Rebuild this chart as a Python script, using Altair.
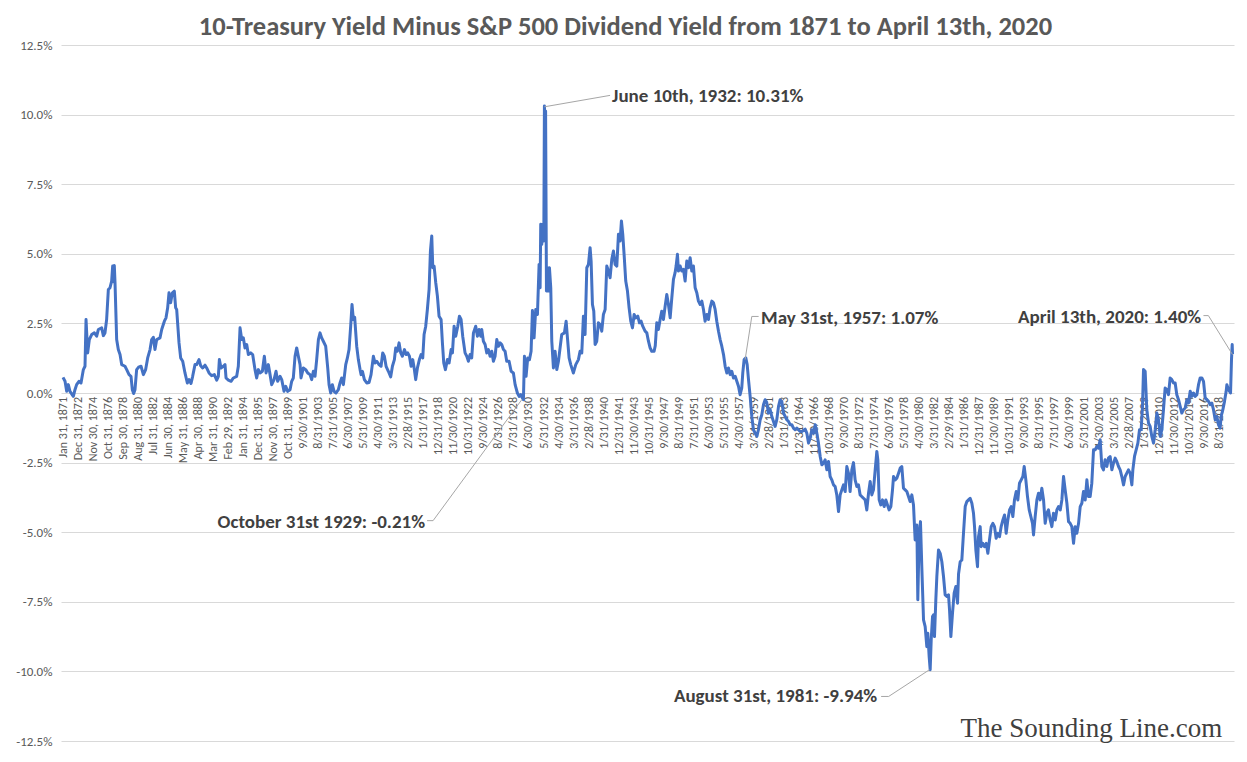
import json
import altair as alt
import pandas as pd

# ---------------- data ----------------
years = [
    1871.00, 1871.26, 1871.47, 1871.68, 1871.89, 1872.32, 1872.53, 1872.74, 1873.04, 1873.30,
    1873.60, 1873.81, 1873.94, 1874.15, 1874.36, 1874.66, 1875.00, 1875.30, 1875.51, 1875.94,
    1876.15, 1876.36, 1876.57, 1876.79, 1877.00, 1877.21, 1877.34, 1877.43, 1877.55, 1877.64,
    1877.85, 1878.06, 1878.28, 1878.49, 1878.91, 1879.13, 1879.43, 1879.68, 1879.85, 1880.02,
    1880.19, 1880.40, 1880.70, 1880.96, 1881.26, 1881.55, 1881.81, 1882.11, 1882.32, 1882.53,
    1882.74, 1882.96, 1883.38, 1883.60, 1883.94, 1884.15, 1884.36, 1884.53, 1884.74, 1884.96,
    1885.21, 1885.38, 1885.51, 1885.81, 1886.02, 1886.28, 1886.57, 1886.87, 1887.09, 1887.34,
    1887.55, 1887.85, 1888.06, 1888.36, 1888.57, 1888.83,
    1889.13, 1889.34, 1889.64, 1889.98, 1890.32, 1890.62, 1890.83, 1890.96, 1891.17, 1891.47,
    1891.68, 1891.81, 1892.11, 1892.45, 1892.75, 1893.17, 1893.38, 1893.60, 1893.81, 1894.02,
    1894.23, 1894.45, 1894.66, 1894.96, 1895.21, 1895.51, 1895.72, 1895.94, 1896.15, 1896.45,
    1896.70, 1896.92, 1897.21, 1897.43, 1897.64, 1897.94, 1898.19, 1898.40, 1898.70, 1898.92,
    1899.21, 1899.43, 1899.68, 1899.98, 1900.19, 1900.40, 1900.62, 1900.83, 1901.04, 1901.26,
    1901.38, 1901.68, 1901.98, 1902.24, 1902.53, 1902.74, 1902.96, 1903.17, 1903.38, 1903.60,
    1903.81, 1904.02, 1904.23, 1904.53, 1904.79, 1904.96, 1905.17, 1905.38, 1905.60, 1905.85,
    1906.15, 1906.36, 1906.57, 1906.79, 1907.09, 1907.30, 1907.51, 1907.72, 1907.89, 1908.06,
    1908.23,
    1908.49, 1908.70, 1908.92, 1909.05, 1909.22, 1909.47, 1909.77, 1910.07, 1910.32, 1910.62,
    1910.83, 1911.05, 1911.34, 1911.60, 1911.81, 1912.02, 1912.24, 1912.53, 1912.83, 1913.05,
    1913.30, 1913.47, 1913.68, 1913.90, 1914.11, 1914.32, 1914.58, 1914.79, 1915.00, 1915.22,
    1915.43, 1915.64, 1915.85, 1916.02, 1916.24, 1916.49, 1916.71, 1916.92, 1917.09, 1917.30,
    1917.51, 1917.73, 1917.90, 1918.07, 1918.20, 1918.37, 1918.58, 1918.79, 1919.00, 1919.26,
    1919.43, 1919.60, 1919.81, 1920.07, 1920.28, 1920.54, 1920.71, 1920.92, 1921.13, 1921.39,
    1921.60, 1921.81, 1922.02, 1922.32, 1922.54, 1922.75, 1922.96, 1923.17, 1923.39, 1923.68,
    1923.90, 1924.11, 1924.32, 1924.45, 1924.66, 1924.88, 1925.09, 1925.30, 1925.52, 1925.73,
    1925.94, 1926.15, 1926.37, 1926.58, 1926.79, 1927.00, 1927.22,
    1927.43, 1927.64, 1927.94, 1928.20, 1928.49, 1928.71, 1929.00, 1929.22, 1929.43, 1929.64,
    1929.77, 1929.90, 1930.11, 1930.32, 1930.54, 1930.75, 1930.92, 1931.13, 1931.34, 1931.56,
    1931.77, 1931.90, 1931.98, 1932.11, 1932.24, 1932.37, 1932.45, 1932.52, 1932.60, 1932.71,
    1932.83, 1932.96, 1933.09, 1933.26, 1933.39, 1933.60, 1933.81, 1934.03, 1934.24, 1934.45,
    1934.66, 1935.00, 1935.22, 1935.39, 1935.60, 1935.81, 1936.15, 1936.45, 1936.79, 1937.00,
    1937.22, 1937.43, 1937.64, 1937.86, 1938.07, 1938.28, 1938.41, 1938.58, 1938.75, 1938.92,
    1939.13, 1939.34, 1939.56, 1939.77, 1939.98, 1940.20, 1940.41, 1940.62, 1940.83, 1941.05,
    1941.26, 1941.47, 1941.69, 1941.90, 1942.11, 1942.28, 1942.45, 1942.62, 1942.83, 1943.05,
    1943.26, 1943.47, 1943.69, 1943.90, 1944.11, 1944.37, 1944.58, 1944.79, 1945.00, 1945.30,
    1945.52, 1945.73, 1945.94, 1946.15, 1946.45,
    1946.60, 1946.79, 1947.00, 1947.22, 1947.43, 1947.64, 1947.86, 1948.07, 1948.28, 1948.50,
    1948.71, 1948.92, 1949.13, 1949.26, 1949.43, 1949.56, 1949.77, 1949.98, 1950.20, 1950.41,
    1950.62, 1950.84, 1951.05, 1951.26, 1951.47, 1951.69, 1951.90, 1952.11, 1952.33, 1952.54,
    1952.75, 1952.96, 1953.18, 1953.39, 1953.60, 1953.82, 1954.03, 1954.24, 1954.45, 1954.67,
    1954.88, 1955.09, 1955.31, 1955.52, 1955.73, 1955.94, 1956.16, 1956.37, 1956.58, 1956.80,
    1957.01, 1957.22, 1957.43, 1957.64, 1957.77, 1957.94, 1958.16, 1958.33, 1958.50, 1958.71,
    1958.92, 1959.13, 1959.35, 1959.56, 1959.77, 1959.99, 1960.20, 1960.41, 1960.62, 1960.84,
    1961.05, 1961.26, 1961.47, 1961.69, 1961.90, 1962.11, 1962.33, 1962.54, 1962.75, 1962.96,
    1963.18, 1963.39, 1963.60, 1963.82, 1964.03, 1964.24, 1964.45, 1964.67, 1964.88, 1965.09,
    1965.31,
    1965.73, 1965.94, 1966.16, 1966.37, 1966.58, 1966.80, 1967.01, 1967.22, 1967.43, 1967.65,
    1967.86, 1968.07, 1968.28, 1968.50, 1968.71, 1968.92, 1969.13, 1969.35, 1969.56, 1969.77,
    1969.99, 1970.20, 1970.41, 1970.62, 1970.84, 1971.05, 1971.26, 1971.47, 1971.69, 1971.90,
    1972.11, 1972.33, 1972.54, 1972.75, 1972.96, 1973.18, 1973.39, 1973.60, 1973.82, 1974.03,
    1974.24, 1974.45, 1974.67, 1974.88, 1975.01, 1975.18, 1975.39, 1975.60, 1975.82, 1976.03,
    1976.24, 1976.45, 1976.67, 1976.88, 1977.01, 1977.22, 1977.43, 1977.65, 1977.86, 1978.07,
    1978.28, 1978.50, 1978.71, 1978.92, 1979.13, 1979.35, 1979.56, 1979.77, 1979.99, 1980.11,
    1980.28, 1980.45, 1980.62, 1980.84, 1981.05, 1981.26, 1981.39, 1981.56, 1981.69, 1981.82,
    1981.99, 1982.11, 1982.24, 1982.41, 1982.54, 1982.75, 1982.97, 1983.18, 1983.39, 1983.60,
    1983.82, 1984.03, 1984.16, 1984.33, 1984.54, 1984.75, 1984.97, 1985.18,
    1985.31, 1985.52, 1985.73, 1985.94, 1986.16, 1986.37, 1986.58, 1986.79, 1987.01, 1987.22,
    1987.35, 1987.52, 1987.73, 1987.86, 1988.07, 1988.20, 1988.41, 1988.62, 1988.84, 1989.05,
    1989.26, 1989.48, 1989.69, 1989.90, 1990.11, 1990.33, 1990.54, 1990.75, 1990.97, 1991.18,
    1991.39, 1991.60, 1991.82, 1992.03, 1992.24, 1992.45, 1992.67, 1992.88, 1993.09, 1993.31,
    1993.52, 1993.69, 1993.90, 1994.11, 1994.33, 1994.54, 1994.75, 1994.88, 1995.09, 1995.31,
    1995.52, 1995.73, 1995.94, 1996.16, 1996.37, 1996.58, 1996.79, 1997.01, 1997.22, 1997.43,
    1997.65, 1997.86, 1998.07, 1998.29, 1998.50, 1998.71, 1998.92, 1999.14, 1999.35, 1999.56,
    1999.77, 1999.99, 2000.20, 2000.41, 2000.63, 2000.84, 2001.05, 2001.26, 2001.48, 2001.69,
    2001.90,
    2002.11, 2002.32, 2002.54, 2002.75, 2002.96, 2003.17, 2003.39, 2003.60, 2003.81, 2004.02,
    2004.24, 2004.45, 2004.66, 2004.88, 2005.09, 2005.30, 2005.51, 2005.73, 2005.94, 2006.15,
    2006.37, 2006.58, 2006.79, 2007.00, 2007.22, 2007.43, 2007.56, 2007.77, 2007.98, 2008.20,
    2008.41, 2008.62, 2008.79, 2008.92, 2009.13, 2009.34, 2009.56, 2009.77, 2009.98, 2010.20,
    2010.41, 2010.62, 2010.83, 2011.05, 2011.26, 2011.47, 2011.68, 2011.90, 2012.11, 2012.32,
    2012.53, 2012.75, 2012.96, 2013.17, 2013.39, 2013.60, 2013.81, 2014.02, 2014.24, 2014.45,
    2014.66, 2014.88, 2015.09, 2015.30, 2015.51, 2015.73, 2015.94, 2016.15, 2016.37, 2016.58,
    2016.79, 2017.00, 2017.22, 2017.43, 2017.64, 2017.85, 2018.07, 2018.28, 2018.49, 2018.70,
    2018.83, 2019.05, 2019.26, 2019.47, 2019.56, 2019.69, 2019.90, 2020.03, 2020.15, 2020.24,
    2020.28,
]

spread_pct = [
    0.56, 0.42, 0.06, 0.30, 0.06, -0.12, 0.12, 0.30, 0.42, 0.36,
    0.84, 0.96, 2.64, 1.44, 1.92, 2.10, 2.16, 2.04, 2.28, 2.34,
    2.06, 2.16, 2.64, 3.72, 3.78, 4.02, 4.56, 4.00, 4.58, 3.96,
    1.92, 1.56, 1.38, 1.02, 0.96, 0.84, 0.66, 0.60, 0.12, -0.02,
    0.12, 0.84, 0.94, 0.96, 0.66, 0.84, 1.26, 1.56, 1.92, 2.00,
    1.56, 1.92, 1.98, 2.28, 2.58, 2.70, 3.06, 3.60, 3.24, 3.60,
    3.66, 3.06, 3.00, 1.80, 1.26, 1.14, 0.72, 0.36, 0.48, 0.34,
    0.60, 1.02, 1.02, 1.20, 0.98, 0.90,
    1.00, 0.90, 0.72, 0.62, 0.66, 0.46, 0.60, 1.20, 0.90, 0.96,
    1.02, 0.54, 0.46, 0.42, 0.54, 0.60, 0.96, 2.34, 1.92, 1.98,
    1.62, 1.74, 1.38, 1.44, 1.38, 0.84, 0.54, 0.84, 0.72, 0.78,
    1.32, 0.72, 1.02, 0.66, 0.30, 0.48, 0.78, 0.42, 0.60, 0.48,
    0.06, 0.24, 0.06, 0.12, 0.42, 0.54, 1.32, 1.62, 1.32, 1.02,
    0.54, 0.90, 0.84, 0.72, 0.66, 0.48, 0.78, 0.60, 1.20, 1.92,
    2.16, 1.98, 1.86, 1.68, 0.90, 0.30, 0.00, 0.30, 0.06, 0.00,
    0.12, 0.36, 0.54, 0.30, 1.02, 1.26, 1.56, 2.40, 3.18, 2.64,
    2.72,
    1.68, 1.20, 0.84, 0.66, 0.78, 0.48, 0.36, 0.38, 0.66, 1.32,
    1.08, 1.14, 1.02, 0.96, 1.44, 1.32, 0.96, 0.78, 0.58, 0.96,
    1.20, 1.62, 1.50, 1.80, 1.44, 1.32, 1.56, 1.38, 1.44, 1.32,
    0.96, 1.20, 0.84, 0.48, 0.90, 1.20, 1.38, 1.26, 2.10, 2.40,
    3.00, 3.72, 5.10, 5.64, 4.50, 4.56, 3.96, 3.48, 2.76, 2.64,
    1.80, 1.08, 0.84, 1.20, 1.08, 1.56, 1.44, 2.40, 2.04, 2.40,
    2.76, 2.64, 2.04, 1.44, 1.32, 1.14, 1.38, 1.26, 2.16, 2.40,
    2.04, 2.28, 2.04, 2.28, 1.86, 1.74, 1.44, 1.56, 1.32, 1.50,
    1.14, 1.32, 1.92, 1.68, 1.80, 1.74, 1.56,
    1.50, 1.14, 1.14, 0.78, 0.72, 0.30, 0.00, -0.12, -0.06, -0.18,
    -0.24, 1.32, 0.60, 1.26, 1.20, 1.50, 2.96, 1.98, 3.00, 2.82,
    4.62, 3.78, 6.06, 5.34, 6.06, 5.46, 10.31, 9.60, 10.13, 3.66,
    4.50, 3.66, 4.50, 3.78, 1.86, 0.90, 1.50, 0.84, 1.14, 1.62,
    2.10, 2.16, 2.58, 1.98, 1.26, 1.02, 0.72, 1.02, 1.20, 1.50,
    1.44, 2.76, 2.10, 4.50, 4.62, 5.22, 4.74, 3.18, 2.94, 1.74,
    1.86, 2.52, 2.46, 2.22, 2.82, 3.00, 4.56, 4.38, 4.14, 4.80,
    5.10, 4.62, 4.56, 5.70, 5.46, 6.18, 5.70, 4.98, 4.02, 3.66,
    3.06, 2.58, 2.34, 2.82, 2.70, 2.76, 2.52, 2.58, 2.40, 2.22,
    2.16, 1.86, 1.62, 1.50, 1.50,
    1.70, 2.52, 2.28, 2.64, 2.94, 2.64, 3.12, 3.54, 3.18, 2.70,
    3.42, 4.08, 4.32, 4.56, 4.98, 4.38, 4.56, 4.38, 4.44, 4.02,
    4.74, 4.50, 4.86, 4.38, 4.56, 3.78, 3.60, 3.30, 3.18, 3.30,
    3.00, 2.58, 2.82, 2.64, 3.06, 3.30, 3.24, 3.00, 2.58, 2.22,
    1.92, 1.68, 1.38, 0.96, 0.72, 0.90, 0.66, 0.78, 0.54, 0.60,
    0.42, 0.24, -0.06, 0.18, 0.72, 1.20, 1.26, 1.02, 0.48, -0.12,
    -0.84, -1.32, -1.44, -1.56, -1.32, -0.96, -0.78, -0.42, -0.24, -0.36,
    -0.72, -0.60, -0.84, -1.02, -1.20, -0.96, -0.48, -0.24, -0.30, -0.72,
    -0.84, -0.96, -1.02, -1.14, -1.14, -1.26, -1.32, -1.26, -1.32, -1.38,
    -1.38,
    -1.30, -1.44, -1.80, -1.62, -1.32, -1.44, -1.14, -1.44, -1.80, -2.28,
    -2.58, -2.52, -2.40, -2.76, -2.46, -3.00, -3.12, -3.30, -3.36, -3.66,
    -4.26, -3.66, -3.48, -3.30, -3.54, -2.64, -2.88, -3.54, -2.76, -2.50,
    -3.12, -3.36, -3.30, -3.66, -3.72, -3.78, -3.84, -4.20, -3.60, -3.18,
    -3.66, -3.48, -2.76, -2.10, -2.40, -3.84, -4.02, -3.84, -4.08, -3.84,
    -4.02, -4.20, -4.08, -3.48, -3.00, -3.12, -3.06, -2.88, -2.70, -2.64,
    -3.42, -3.48, -3.54, -3.72, -3.90, -3.66, -4.02, -5.28, -4.74, -7.43,
    -5.16, -4.62, -6.24, -8.15, -8.39, -9.11, -8.63, -9.47, -9.94, -8.87,
    -8.03, -7.97, -8.75, -7.43, -6.59, -5.64, -5.76, -6.06, -6.59, -7.25,
    -7.31, -7.25, -7.79, -8.75, -7.91, -7.19, -6.95, -7.55,
    -6.50, -6.06, -6.00, -5.04, -4.08, -3.90, -3.84, -3.78, -3.96, -4.32,
    -4.80, -5.64, -6.24, -5.16, -4.80, -5.52, -5.40, -5.52, -5.40, -5.76,
    -5.28, -4.80, -4.68, -4.80, -5.22, -5.04, -5.16, -4.80, -4.56, -4.38,
    -5.04, -4.56, -4.20, -4.08, -4.44, -3.84, -3.54, -3.84, -3.24, -3.12,
    -3.00, -2.64, -3.12, -3.72, -4.20, -4.44, -4.68, -5.10, -4.44, -3.84,
    -3.60, -3.84, -3.42, -3.84, -4.68, -4.32, -4.20, -4.56, -4.80, -4.32,
    -4.56, -4.20, -4.08, -4.20, -3.84, -3.00, -3.48, -3.96, -4.62, -4.68,
    -4.80, -5.40, -4.80, -5.04, -4.68, -4.08, -3.96, -3.54, -3.84, -3.12,
    -3.72,
    -3.72, -3.24, -2.04, -2.04, -1.92, -1.98, -1.68, -2.64, -2.76, -2.40,
    -2.64, -2.34, -2.28, -2.76, -2.52, -2.34, -2.46, -2.64, -2.76, -3.00,
    -3.30, -3.00, -2.88, -2.76, -2.88, -3.30, -2.76, -2.28, -2.04, -1.80,
    -1.32, -1.32, -0.48, 0.84, 0.78, -0.60, -1.08, -1.20, -1.56, -1.80,
    -1.32, -0.72, -0.96, -1.56, -1.32, -0.60, 0.18, 0.12, -0.06, 0.54,
    0.48, 0.36, 0.36, -0.06, -0.24, -0.48, -0.72, -0.60, -0.54, -0.24,
    -0.36, 0.06, -0.12, 0.00, -0.12, -0.06, 0.30, 0.54, 0.54, 0.42,
    -0.18, -0.24, -0.30, -0.42, -0.36, -0.60, -0.96, -0.84, -1.14, -1.26,
    -0.84, -0.60, -0.30, 0.06, 0.30, 0.18, 0.06, 0.00, 1.20, 1.74,
    1.40,
]

tick_labels = [
    "Jan 31, 1871", "Dec 31, 1872", "Nov 30, 1874", "Oct 31, 1876", "Sep 30, 1878",
    "Aug 31, 1880", "Jul 31, 1882", "Jun 30, 1884", "May 31, 1886", "Apr 30, 1888",
    "Mar 31, 1890", "Feb 29, 1892", "Jan 31, 1894", "Dec 31, 1895", "Nov 30, 1897",
    "Oct 31, 1899", "9/30/1901", "8/31/1903", "7/31/1905", "6/30/1907",
    "5/31/1909", "4/30/1911", "3/31/1913", "2/28/1915", "1/31/1917",
    "12/31/1918", "11/30/1920", "10/31/1922", "9/30/1924", "8/31/1926",
    "7/31/1928", "6/30/1930", "5/31/1932", "4/30/1934", "3/31/1936",
    "2/28/1938", "1/31/1940", "12/31/1941", "11/30/1943", "10/31/1945",
    "9/30/1947", "8/31/1949", "7/31/1951", "6/30/1953", "5/31/1955",
    "4/30/1957", "3/31/1959", "2/28/1961", "1/31/1963", "12/31/1964",
    "11/30/1966", "10/31/1968", "9/30/1970", "8/31/1972", "7/31/1974",
    "6/30/1976", "5/31/1978", "4/30/1980", "3/31/1982", "2/29/1984",
    "1/31/1986", "12/31/1987", "11/30/1989", "10/31/1991", "9/30/1993",
    "8/31/1995", "7/31/1997", "6/30/1999", "5/31/2001", "4/30/2003",
    "3/31/2005", "2/28/2007", "1/31/2009", "12/31/2010", "11/30/2012",
    "10/31/2014", "9/30/2016", "8/31/2018",
]
y_ticks = [-12.5, -10.0, -7.5, -5.0, -2.5, 0.0, 2.5, 5.0, 7.5, 10.0, 12.5]

# annotations (text anchor in data units)
ann_labels = ["June 10th, 1932: 10.31%", "May 31st, 1957: 1.07%",
              "April 13th, 2020: 1.40%", "October 31st 1929: -0.21%",
              "August 31st, 1981: -9.94%"]
ann_year = [1941.09, 1960.11, 2016.28, 1917.21, 1974.92]
ann_value = [10.66, 2.70, 2.73, -4.62, -10.90]
ann_side = ["left", "left", "right", "right", "right"]

# leader lines (annotation id, order, year, value)
lead_id = [0, 0, 1, 1, 1, 2, 2, 2, 3, 3, 3, 4, 4, 4]
lead_seq = [0, 1, 0, 1, 2, 0, 1, 2, 0, 1, 2, 0, 1, 2]
lead_year = [1932.45, 1940.83, 1958.07, 1958.92, 1959.79, 2016.57, 2017.20, 2020.28,
             1917.47, 1918.24, 1929.56, 1975.43, 1976.39, 1981.60]
lead_value = [10.28, 10.69, 1.20, 2.75, 2.75, 2.78, 2.78, 1.38,
              -4.585, -4.585, -0.24, -10.90, -10.90, -9.94]

watermark = "The Sounding Line.com"
watermark_year = [2018.96]
watermark_value = [-12.34]

TITLE = "10-Treasury Yield Minus S&P 500 Dividend Yield from 1871 to April 13th, 2020"

# ---------------- chart ----------------
FONT = "Carlito, Calibri, Lato"
W, H = 1173, 696

x_scale = alt.Scale(domain=[1870.745, 2020.47], nice=False, zero=False)
y_scale = alt.Scale(domain=[-12.5, 12.5], nice=False, zero=False)

tick_years = [1871 + 23 * k / 12 for k in range(len(tick_labels))]
y_label_expr = "(datum.value < 0 ? '-' : '') + format(abs(datum.value), '.1f') + '%'"

series = pd.DataFrame({"year": years, "spread": spread_pct})

line = alt.Chart(series).mark_line(
    color="#4472C4", strokeWidth=3, strokeJoin="round"
).encode(
    x=alt.X("year:Q", scale=x_scale, title=None, axis=None),
    y=alt.Y("spread:Q", scale=y_scale, title=None, axis=alt.Axis(
        values=y_ticks, labelExpr=y_label_expr, grid=True, title=None)),
)

# category labels of the horizontal axis, drawn along the 0 % line
tick_df = pd.DataFrame({"year": tick_years, "label": tick_labels, "zero": [0.0] * len(tick_labels)})
x_labels = alt.Chart(tick_df).mark_text(
    angle=270, align="right", baseline="middle", dx=-4, font=FONT, fontSize=12,
    color="#595959"
).encode(
    x=alt.X("year:Q", scale=x_scale, title=None, axis=None),
    y=alt.Y("zero:Q", scale=y_scale, title=None),
    text="label:N",
)

lead_df = pd.DataFrame({"id": lead_id, "seq": lead_seq, "year": lead_year, "value": lead_value})
leaders = alt.Chart(lead_df).mark_line(color="#a6a6a6", strokeWidth=1).encode(
    x=alt.X("year:Q", scale=x_scale, title=None, axis=None),
    y=alt.Y("value:Q", scale=y_scale, title=None),
    detail="id:N",
    order="seq:Q",
)

ann_df = pd.DataFrame({"label": ann_labels, "year": ann_year, "value": ann_value, "side": ann_side})


def ann_layer(side):
    return alt.Chart(ann_df[ann_df["side"] == side]).mark_text(
        align=side, baseline="middle", font=FONT, fontSize=19, fontWeight="bold",
        color="#404040"
    ).encode(
        x=alt.X("year:Q", scale=x_scale, title=None, axis=None),
        y=alt.Y("value:Q", scale=y_scale, title=None),
        text="label:N",
    )


wm_df = pd.DataFrame({"label": [watermark], "year": watermark_year, "value": watermark_value})
wm = alt.Chart(wm_df).mark_text(
    align="right", baseline="alphabetic", font="Liberation Serif", fontSize=27,
    color="#404040"
).encode(
    x=alt.X("year:Q", scale=x_scale, title=None, axis=None),
    y=alt.Y("value:Q", scale=y_scale, title=None),
    text="label:N",
)

title_df = pd.DataFrame({"label": [TITLE]})
title = alt.Chart(title_df).mark_text(
    align="center", baseline="alphabetic", font=FONT, fontSize=26.5,
    fontWeight="bold", color="#595959"
).encode(
    x=alt.value(W / 2 - 22),
    y=alt.value(-10),
    text="label:N",
)

chart = alt.layer(x_labels, line, leaders, ann_layer("left"), ann_layer("right"), wm, title).properties(
    width=W, height=H,
    autosize=alt.AutoSizeParams(type="none"),
    padding={"left": 53, "top": 37, "right": 5, "bottom": 10},
).configure(
    background="white"
).configure_view(
    stroke=None
).configure_axis(
    labelFont=FONT, labelColor="#595959", ticks=False, tickSize=0, title=None
).configure_axisY(
    labelFontSize=13, labelPadding=9, domain=False, grid=True,
    gridColor="#d9d9d9", gridWidth=1
)

chart.save("out.html", embed_options={"renderer": "svg", "actions": False})
